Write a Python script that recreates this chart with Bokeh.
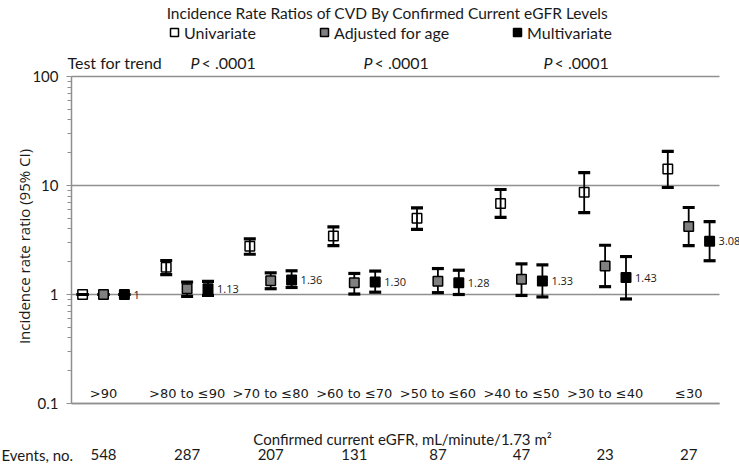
import math
from bokeh.plotting import figure
from bokeh.models import (Range1d, FixedTicker, Label, Legend, LegendItem, CustomJSTickFormatter)
from bokeh.core.properties import value
from bokeh.embed import file_html
from bokeh.resources import INLINE

# ---------------- data ----------------
categories = [">90", ">80 to \u226490", ">70 to \u226480", ">60 to \u226470",
              ">50 to \u226460", ">40 to \u226450", ">30 to \u226440", "\u226430"]
events = [548, 287, 207, 131, 87, 47, 23, 27]

univ = [1, 1.78, 2.77, 3.45, 5.0, 6.84, 8.68, 14.2]
univ_lo = [1, 1.52, 2.34, 2.81, 3.95, 5.09, 5.65, 9.59]
univ_hi = [1, 2.05, 3.24, 4.18, 6.24, 9.19, 13.1, 20.6]

age = [1, 1.13, 1.34, 1.28, 1.32, 1.38, 1.83, 4.21]
age_lo = [1, 0.96, 1.13, 1.01, 1.04, 0.98, 1.18, 2.81]
age_hi = [1, 1.30, 1.58, 1.56, 1.73, 1.91, 2.83, 6.28]

multi = [1, 1.13, 1.36, 1.30, 1.28, 1.33, 1.43, 3.08]
multi_lo = [1, 0.98, 1.16, 1.05, 1.00, 0.95, 0.91, 2.04]
multi_hi = [1, 1.32, 1.65, 1.64, 1.67, 1.87, 2.23, 4.67]
multi_labels = ["1", "1.13", "1.36", "1.30", "1.28", "1.33", "1.43", "3.08"]

y_ticks = [0.1, 1, 10, 100]
p_trend = ["< .0001", "< .0001", "< .0001"]

# ---------------- layout (pixel <-> data helpers) ----------------
W, H = 739, 465
GX0, GSTEP = 103.0, 83.6          # pixel x of first group centre, group pitch
Y1PX, DEC = 294.0, 109.0          # pixel y of value 1, pixels per decade
X0, X1 = (0 - GX0) / GSTEP, (W - GX0) / GSTEP
LY0, LY1 = -(H - Y1PX) / DEC, Y1PX / DEC

def dx(px):
    return (px - GX0) / GSTEP

def dy(py):
    return 10 ** ((Y1PX - py) / DEC)

p = figure(width=W, height=H, min_border=0,
           y_axis_type="log",
           x_range=Range1d(X0, X1), y_range=Range1d(10 ** LY0, 10 ** LY1),
           output_backend="svg", toolbar_location=None)
p.title.visible = False
p.outline_line_color = None
p.background_fill_color = "white"
p.border_fill_color = "white"
p.xgrid.visible = False

GRAY = "#8f8f8f"
XL, XR = dx(71), dx(719)          # plot-area edges
minor = [m * 10 ** e for e in (-1, 0, 1) for m in range(2, 10)]
p.yaxis.ticker = FixedTicker(ticks=y_ticks, minor_ticks=minor)
p.yaxis.fixed_location = XL
p.yaxis.bounds = (0.1, 100)
p.yaxis.axis_line_color = GRAY
p.yaxis.axis_line_width = 1.5
p.yaxis.major_tick_line_color = GRAY
p.yaxis.minor_tick_line_color = GRAY
p.yaxis.major_tick_in = 0
p.yaxis.major_tick_out = 5
p.yaxis.minor_tick_in = 0
p.yaxis.minor_tick_out = 4
p.yaxis.major_label_standoff = 8
p.yaxis.major_label_text_font = "Lato"
p.yaxis.major_label_text_font_size = "15px"
p.yaxis.major_label_text_color = "#1a1a1a"
p.yaxis.formatter = CustomJSTickFormatter(code="return tick >= 1 ? tick.toFixed(0) : tick.toString();")
p.ygrid.grid_line_color = GRAY
p.ygrid.grid_line_width = 1.5
p.ygrid.cross_bounds = (XL, XR)

p.xaxis.ticker = FixedTicker(ticks=[])
p.xaxis.fixed_location = 0.1
p.xaxis.bounds = (XL, XR)
p.xaxis.axis_line_color = GRAY
p.xaxis.axis_line_width = 1.5
p.xaxis.major_tick_line_color = None
p.xaxis.minor_tick_line_color = None

# ---------------- marks ----------------
idx = list(range(len(categories)))
OFF = 0.25
x_u = [i - OFF for i in idx]
x_a = list(idx)
x_m = [i + OFF for i in idx]

series = [
    (x_u, univ, univ_lo, univ_hi, None),
    (x_a, age, age_lo, age_hi, "#808080"),
    (x_m, multi, multi_lo, multi_hi, "black"),
]
renderers = []
for xs, ys, lo, hi, fill in series:
    p.segment(x0=xs, y0=lo, x1=xs, y1=hi, line_color="black", line_width=1.8)
    p.scatter(x=xs, y=hi, marker="dash", size=12, line_color="black", line_width=3.2)
    p.scatter(x=xs, y=lo, marker="dash", size=12, line_color="black", line_width=3.2)
for xs, ys, lo, hi, fill in series:
    r = p.scatter(x=xs, y=ys, marker="square", size=9.5,
                  fill_color=fill, fill_alpha=0 if fill is None else 1,
                  line_color="black", line_width=1.5)
    renderers.append(r)

p.text(x=x_m, y=multi, text=multi_labels, x_offset=9,
       text_baseline="middle", text_align="left",
       text_font=value("Open Sans"), text_font_size="11px", text_color="#1a1a1a")

# category labels inside the plot bottom
p.text(x=x_a, y=[dy(393)] * len(categories), text=categories,
       text_baseline="middle", text_align="center",
       text_font=value("DejaVu Sans"), text_font_size="13px", text_color="#1a1a1a")

# ---------------- legend ----------------
legend = Legend(items=[LegendItem(label="Univariate", renderers=[renderers[0]]),
                       LegendItem(label="Adjusted for age", renderers=[renderers[1]]),
                       LegendItem(label="Multivariate", renderers=[renderers[2]])],
                orientation="horizontal",
                location=(164, H - 42),
                padding=0, margin=0, spacing=58,
                glyph_width=20, glyph_height=20, label_standoff=0,
                label_height=20,
                border_line_color=None, background_fill_alpha=0,
                label_text_font="Lato", label_text_font_size="16px",
                label_text_color="#1a1a1a")
p.add_layout(legend)

# ---------------- texts ----------------
def lab(text, px, py, align="left", size="16px", font="Lato", style="normal", angle=0):
    p.add_layout(Label(x=dx(px), y=dy(py), text=text, text_align=align,
                       text_baseline="middle", text_font=font, text_font_size=size,
                       text_font_style=style, text_color="#1a1a1a", angle=angle))

lab("Incidence Rate Ratios of CVD By Confirmed Current eGFR Levels", 387, 12,
    align="center", size="15.5px")
lab("Test for trend", 67, 62)
for (pl, tl), txt in zip([(190, 201), (363, 374), (543, 554)], p_trend):
    lab("P", pl, 62, style="italic")
    lab(txt, tl, 62)

lab("Incidence rate ratio (95% CI)", 23, 246, align="center", font="Open Sans",
    size="15px", angle=math.pi / 2)
lab("Confirmed current eGFR, mL/minute/1.73 m\u00b2", 402, 438, align="center", size="15px")
lab("Events, no.", 1, 454, size="15px")
for i, ev in enumerate(events):
    p.add_layout(Label(x=x_a[i], y=dy(454), text=str(ev), text_align="center",
                       text_baseline="middle", text_font="Lato", text_font_size="15px",
                       text_color="#1a1a1a"))

open("out.html", "w").write(file_html(p, INLINE))
